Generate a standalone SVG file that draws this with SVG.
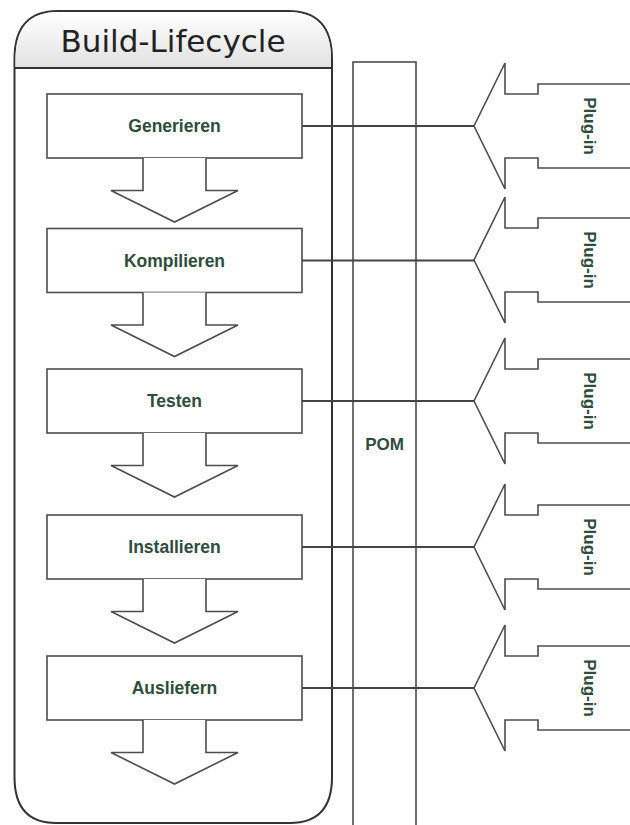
<svg xmlns="http://www.w3.org/2000/svg" width="630" height="825" viewBox="0 0 630 825">
  <defs>
    <linearGradient id="headerFill" x1="0" y1="0" x2="0" y2="1">
      <stop offset="0" stop-color="#ffffff"/>
      <stop offset="1" stop-color="#e2e2e2"/>
    </linearGradient>
    <style>
      .frame { fill: #ffffff; stroke: #333333; stroke-width: 2; }
      .shape { fill: #ffffff; stroke: #4d4d4d; stroke-width: 1.6; stroke-linejoin: miter; }
      .link { fill: none; stroke: #444444; stroke-width: 1.8; }
      .label { font-family: "Liberation Sans", Arial, sans-serif; font-weight: bold; font-size: 17.5px; fill: #2f4c3e; text-anchor: middle; }
      .title { font-family: "DejaVu Sans", Verdana, sans-serif; font-size: 31px; fill: #222222; text-anchor: middle; }
    </style>
  </defs>

  <rect width="630" height="825" fill="#ffffff"/>

  <!-- lifecycle container with header -->
  <g id="lifecycle">
    <path class="frame" d="M14.5,68 V59 Q14.5,11 58,11 H288 Q332,11 332,59 V777 Q332,823 290,823 H56 Q14.5,823 14.5,777 Z"/>
    <path d="M15.5,67 V59 Q15.5,12 58,12 H288 Q331,12 331,59 V67 Z" fill="url(#headerFill)"/>
    <line x1="14.5" y1="68" x2="332" y2="68" stroke="#333333" stroke-width="2"/>
    <text class="title" x="173" y="52">Build-Lifecycle</text>
  </g>

  <!-- project object model column -->
  <g id="pom">
    <rect class="shape" x="353" y="62" width="63" height="780"/>
    <text class="label" x="384.5" y="450" style="font-size:17px">POM</text>
  </g>

  <!-- phases -->
  <g id="phase-generieren">
    <rect class="shape" x="47" y="94" width="255" height="64"/>
    <path class="shape" d="M143,158 V190.5 H111 L174.5,222 L238,190.5 H206 V158"/>
    <text class="label" x="174.5" y="132">Generieren</text>
  </g>
  <g id="phase-kompilieren">
    <rect class="shape" x="47" y="228.5" width="255" height="64"/>
    <path class="shape" d="M143,292.5 V325 H111 L174.5,356.5 L238,325 H206 V292.5"/>
    <text class="label" x="174.5" y="266.5">Kompilieren</text>
  </g>
  <g id="phase-testen">
    <rect class="shape" x="47" y="369" width="255" height="64"/>
    <path class="shape" d="M143,433 V465.5 H111 L174.5,497 L238,465.5 H206 V433"/>
    <text class="label" x="174.5" y="407">Testen</text>
  </g>
  <g id="phase-installieren">
    <rect class="shape" x="47" y="515" width="255" height="64"/>
    <path class="shape" d="M143,579 V611.5 H111 L174.5,643 L238,611.5 H206 V579"/>
    <text class="label" x="174.5" y="553">Installieren</text>
  </g>
  <g id="phase-ausliefern">
    <rect class="shape" x="47" y="656" width="255" height="64"/>
    <path class="shape" d="M143,720 V752.5 H111 L174.5,784 L238,752.5 H206 V720"/>
    <text class="label" x="174.5" y="694">Ausliefern</text>
  </g>

  <!-- plug-in arrows -->
  <g id="plugin-1">
    <path class="shape" d="M631,84 H538 V94 H505 V63 L474,126 L505,189 V158 H538 V168 H631"/>
    <text class="label" transform="translate(584,126) rotate(90)" style="font-size:17px">Plug-in</text>
  </g>
  <g id="plugin-2">
    <path class="shape" d="M631,218 H538 V228 H505 V197 L474,260 L505,323 V292 H538 V302 H631"/>
    <text class="label" transform="translate(584,260) rotate(90)" style="font-size:17px">Plug-in</text>
  </g>
  <g id="plugin-3">
    <path class="shape" d="M631,359 H538 V369 H505 V338 L474,401 L505,464 V433 H538 V443 H631"/>
    <text class="label" transform="translate(584,401) rotate(90)" style="font-size:17px">Plug-in</text>
  </g>
  <g id="plugin-4">
    <path class="shape" d="M631,505 H538 V515 H505 V484 L474,547 L505,610 V579 H538 V589 H631"/>
    <text class="label" transform="translate(584,547) rotate(90)" style="font-size:17px">Plug-in</text>
  </g>
  <g id="plugin-5">
    <path class="shape" d="M631,646 H538 V656 H505 V625 L474,688 L505,751 V720 H538 V730 H631"/>
    <text class="label" transform="translate(584,688) rotate(90)" style="font-size:17px">Plug-in</text>
  </g>

  <!-- links from each phase to its plug-in -->
  <g id="connectors">
    <line class="link" x1="302" y1="126" x2="474" y2="126"/>
    <line class="link" x1="302" y1="260.5" x2="474" y2="260.5"/>
    <line class="link" x1="302" y1="401" x2="474" y2="401"/>
    <line class="link" x1="302" y1="547" x2="474" y2="547"/>
    <line class="link" x1="302" y1="688" x2="474" y2="688"/>
  </g>
</svg>
